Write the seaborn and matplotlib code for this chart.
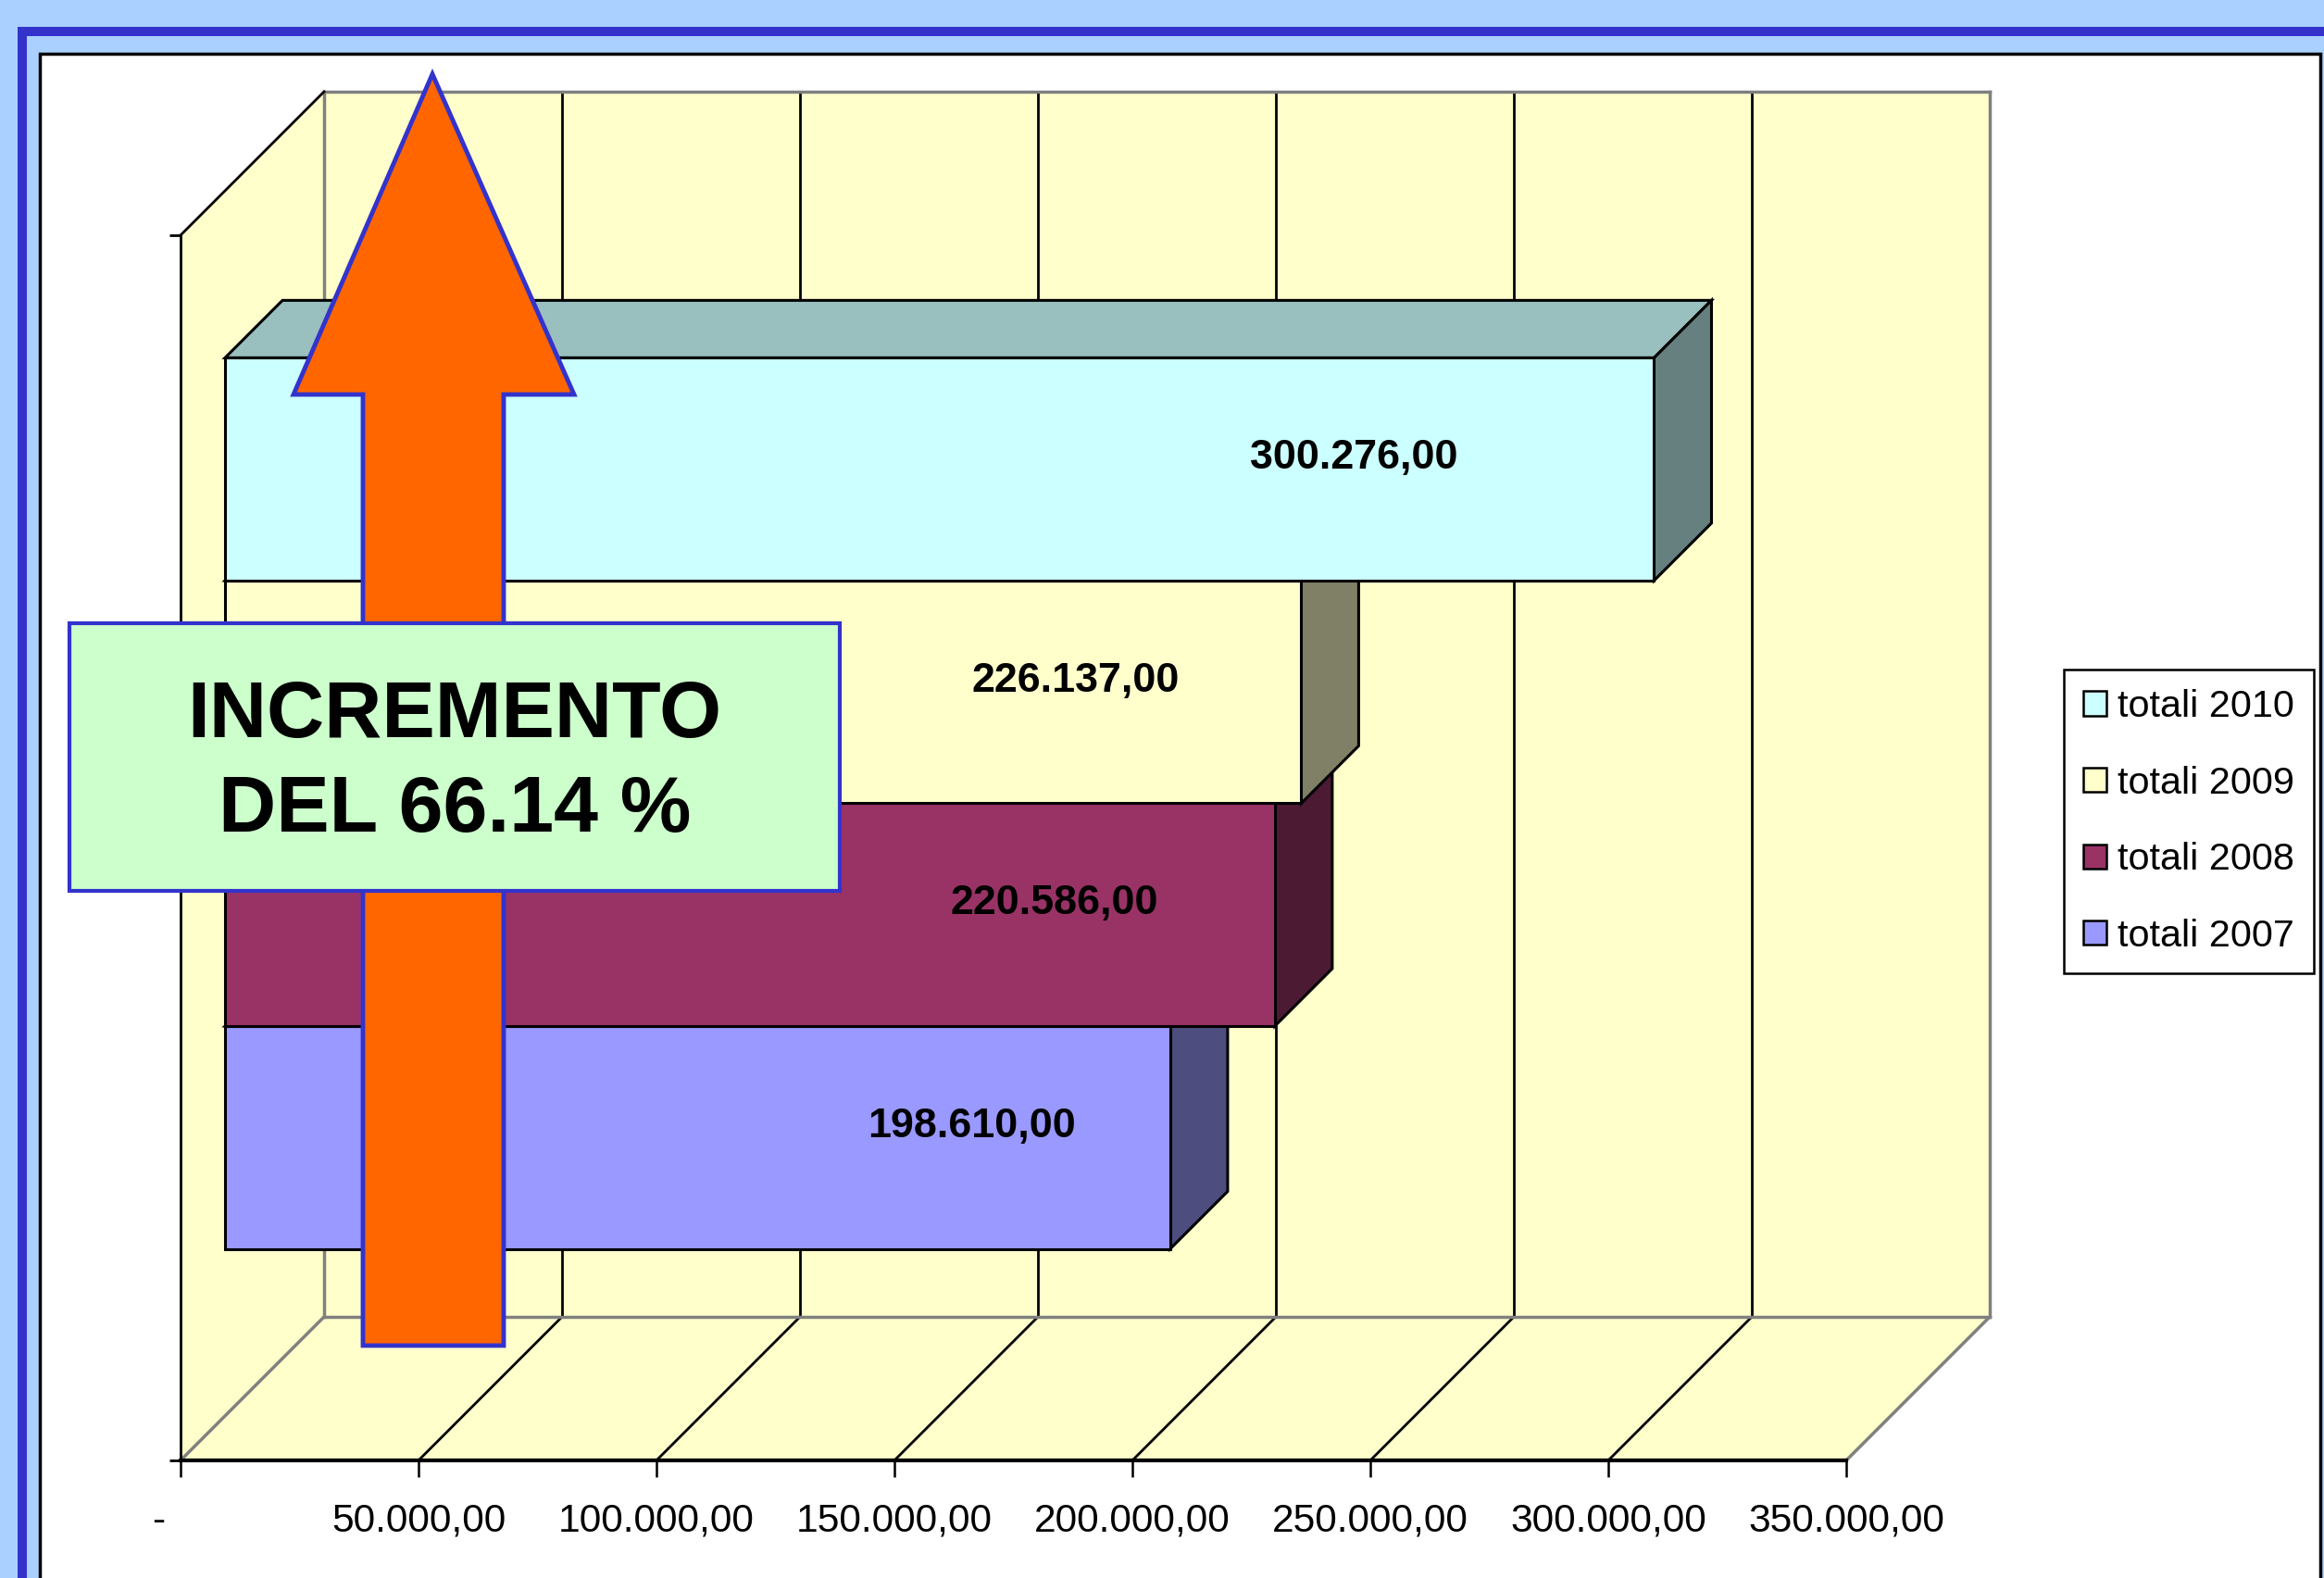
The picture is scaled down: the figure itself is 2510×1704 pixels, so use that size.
import numpy as np
import pandas as pd
import matplotlib
matplotlib.use('Agg')
import matplotlib.pyplot as plt
import seaborn as sns
from matplotlib import font_manager
from matplotlib.patches import Polygon, Rectangle, Patch
from matplotlib.lines import Line2D
from matplotlib.transforms import Affine2D, IdentityTransform
from matplotlib.ticker import FuncFormatter

# dati del grafico
serie = ['totali 2010', 'totali 2009', 'totali 2008', 'totali 2007']
totali = [300276.00, 226137.00, 220586.00, 198610.00]
colori = ['#CCFFFF', '#FFFFCC', '#993366', '#9999FF']
categoria = ['Totale']
x_ticks = [0, 50000, 100000, 150000, 200000, 250000, 300000, 350000]
testo_box = 'INCREMENTO\nDEL 66.14 %'

W, H, DPI = 2510, 1704, 100
PROF = 155                      # profondita' della scatola 3D in pixel
BAR_FRONT, BAR_BACK = 0.31, 0.71
GIALLO = '#FFFFCC'
GRIGIO = '#808080'
BLU = '#3333CC'

nomi = {f.name for f in font_manager.fontManager.ttflist}
if 'Liberation Sans Narrow' in nomi:
    NARROW, K = 'Liberation Sans Narrow', 1.0
else:
    NARROW, K = 'Liberation Sans', 0.85

plt.rcParams['font.family'] = ['Liberation Sans', 'DejaVu Sans']


def it_num(v):
    # formato italiano 300.276,00
    if v == 0:
        return '-'
    s = f'{v:,.2f}'
    return s.replace(',', 'X').replace('.', ',').replace('X', '.')


def shade(c, f):
    r, g, b = matplotlib.colors.to_rgb(c)
    return (r * f, g * f, b * f)


def fx(x):
    return x / W


def fy(y):
    return 1 - y / H


fig = plt.figure(figsize=(W / DPI, H / DPI), dpi=DPI)
fig.patch.set_facecolor('#AAD0FF')

# cornice della diapositiva
fig.add_artist(Rectangle((fx(19), -0.1), 2, fy(29) + 0.1, transform=fig.transFigure,
                         facecolor=BLU, edgecolor='none', zorder=-10))
fig.add_artist(Rectangle((fx(29), -0.1), 2, fy(39) + 0.1, transform=fig.transFigure,
                         facecolor='#AAD0FF', edgecolor='none', zorder=-9))
fig.add_artist(Rectangle((fx(43), -0.1), fx(2506) - fx(43), fy(58) + 0.1, transform=fig.transFigure,
                         facecolor='white', edgecolor='black', linewidth=2.5, zorder=-8))

ax = fig.add_axes([fx(195), fy(1577), fx(1994) - fx(195), fy(254) - fy(1577)])
ax.patch.set_visible(False)

df = pd.DataFrame({'categoria': categoria * len(serie), 'serie': serie, 'totale': totali})
sns.barplot(data=df, x='totale', y='categoria', hue='serie', hue_order=serie,
            palette=dict(zip(serie, colori)), orient='h', width=4 / 5.5,
            saturation=1, errorbar=None, edgecolor='black', linewidth=2.2,
            legend=False, ax=ax)

ax.set_xlim(x_ticks[0], x_ticks[-1])
ax.set_ylim(0.5, -0.5)
ax.set_xlabel('')
ax.set_ylabel('')


def to_px(x, y, d):
    # punto dati spinto di d (0..1) in profondita'
    px, py = ax.transData.transform((x, y))
    return (px + d * PROF, py + d * PROF)


def linea(p, q, color, lw, z=0.6):
    ax.add_line(Line2D([p[0], q[0]], [p[1], q[1]], color=color, linewidth=lw,
                       transform=IdentityTransform(), clip_on=False, zorder=z,
                       solid_capstyle='projecting'))


x0, x1 = x_ticks[0], x_ticks[-1]
top, bot = -0.5, 0.5
pareti = [
    [to_px(x0, top, 1), to_px(x1, top, 1), to_px(x1, bot, 1), to_px(x0, bot, 1)],
    [to_px(x0, top, 0), to_px(x0, top, 1), to_px(x0, bot, 1), to_px(x0, bot, 0)],
    [to_px(x0, bot, 0), to_px(x1, bot, 0), to_px(x1, bot, 1), to_px(x0, bot, 1)],
]
for verts in pareti:
    ax.add_patch(Polygon(verts, closed=True, facecolor=GIALLO, edgecolor='none',
                         transform=IdentityTransform(), clip_on=False, zorder=0.5))

for t in x_ticks[1:-1]:
    linea(to_px(t, top, 1), to_px(t, bot, 1), 'black', 2)
    linea(to_px(t, bot, 0), to_px(t, bot, 1), 'black', 2)

linea(to_px(x0, top, 1), to_px(x1, top, 1), GRIGIO, 2.5)
linea(to_px(x1, top, 1), to_px(x1, bot, 1), GRIGIO, 2.5)
linea(to_px(x0, top, 1), to_px(x0, bot, 1), GRIGIO, 2.5)
linea(to_px(x0, bot, 1), to_px(x1, bot, 1), GRIGIO, 2.5)
linea(to_px(x0, bot, 0), to_px(x0, bot, 1), GRIGIO, 2.5)
linea(to_px(x1, bot, 0), to_px(x1, bot, 1), GRIGIO, 2.5)
linea(to_px(x0, top, 0), to_px(x0, top, 1), 'black', 2)

# barre 3D: faccia frontale da seaborn, sopra e lato aggiunti
shift = Affine2D().translate(BAR_FRONT * PROF, BAR_FRONT * PROF)
for p in list(ax.patches):
    if not isinstance(p, Rectangle) or p.get_width() <= 0:
        continue
    v = p.get_width()
    i = int(np.argmin(np.abs(np.array(totali) - v)))
    z = 3 + (len(serie) - 1 - i)
    y0, y1 = p.get_y(), p.get_y() + p.get_height()
    c = colori[i]
    p.set_transform(ax.transData + shift)
    p.set_clip_on(False)
    p.set_zorder(z + 0.2)
    sopra = [to_px(0, y0, BAR_FRONT), to_px(v, y0, BAR_FRONT), to_px(v, y0, BAR_BACK), to_px(0, y0, BAR_BACK)]
    lato = [to_px(v, y0, BAR_FRONT), to_px(v, y1, BAR_FRONT), to_px(v, y1, BAR_BACK), to_px(v, y0, BAR_BACK)]
    for verts, f in [(sopra, 0.75), (lato, 0.5)]:
        ax.add_patch(Polygon(verts, closed=True, facecolor=shade(c, f), edgecolor='black',
                             linewidth=2.2, transform=IdentityTransform(), clip_on=False,
                             zorder=z + 0.1, joinstyle='miter'))
    ax.text(0.79 * v, (y0 + y1) / 2, it_num(v),
            transform=ax.transData + Affine2D().translate(BAR_FRONT * PROF, BAR_FRONT * PROF + 12),
            ha='center', va='center', fontsize=38 * K, fontweight='bold',
            family=NARROW, zorder=20)

# assi
ax.set_xticks(x_ticks)
ax.xaxis.set_major_formatter(FuncFormatter(lambda v, pos: '' if v == 0 else it_num(v)))
ax.tick_params(axis='x', direction='out', length=13, width=1.8, pad=20,
               labelsize=36 * K, labelfontfamily=NARROW, colors='black')
ax.annotate('-', xy=(0, 0), xycoords=('data', 'axes fraction'),
            xytext=(-17, -33), textcoords='offset points', ha='center', va='top',
            fontsize=36 * K, family=NARROW)
ax.set_yticks([top, bot])
ax.set_yticklabels(['', ''])
ax.tick_params(axis='y', direction='out', length=8.6, width=2)
ax.spines['top'].set_visible(False)
ax.spines['right'].set_visible(False)
ax.spines['left'].set_linewidth(2)
ax.spines['left'].set_color('black')
ax.spines['bottom'].set_linewidth(3)
ax.spines['bottom'].set_color('black')

# legenda
handles = [Patch(facecolor=c, edgecolor='black', linewidth=1.8, label=s) for s, c in zip(serie, colori)]
leg = ax.legend(handles=handles, loc='center', bbox_to_anchor=(fx(2364), fy(887)),
                bbox_transform=fig.transFigure, frameon=True, fancybox=False,
                edgecolor='black', framealpha=1, prop={'family': NARROW, 'size': 35 * K},
                handlelength=0.6, handleheight=0.6, handletextpad=0.3,
                labelspacing=1.08, borderpad=0.5)
leg.get_frame().set_linewidth(1.8)

# freccia e riquadro
freccia = [(467, 80), (620, 426), (544, 426), (544, 1453), (392, 1453), (392, 426), (317, 426)]
fig.add_artist(Polygon([(fx(a), fy(b)) for a, b in freccia], closed=True, transform=fig.transFigure,
                       facecolor='#FF6600', edgecolor=BLU, linewidth=3.5, zorder=5, joinstyle='miter'))
fig.add_artist(Rectangle((fx(75), fy(962)), fx(907) - fx(75), fy(673) - fy(962), transform=fig.transFigure,
                         facecolor='#CCFFCC', edgecolor=BLU, linewidth=3, zorder=6))
fig.text(fx(491), fy(825), testo_box, ha='center', va='center', fontsize=62,
         fontweight='bold', linespacing=1.36, zorder=7)

fig.savefig('out.png', dpi=DPI, facecolor=fig.get_facecolor())
